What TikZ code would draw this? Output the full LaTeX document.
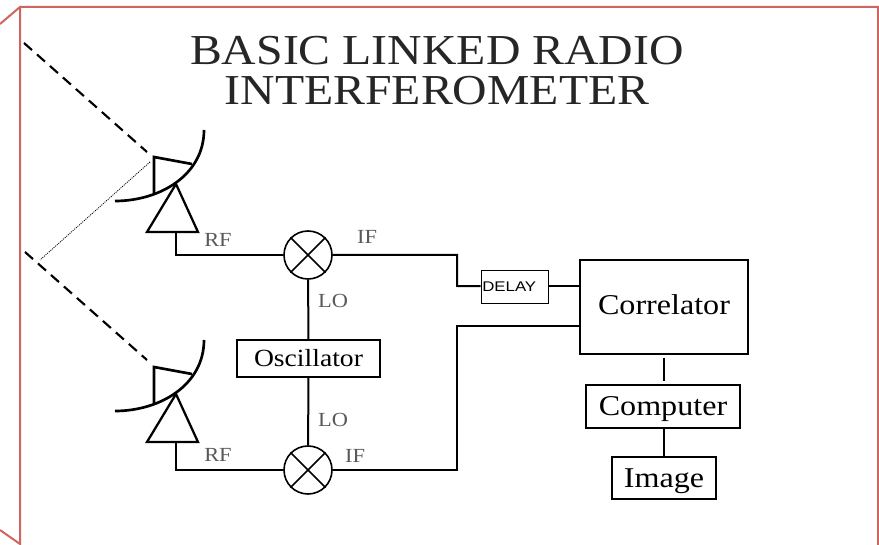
\documentclass[tikz,border=0pt]{standalone}
\usepackage{fontspec}
\setmainfont[FakeStretch=1.12]{Liberation Serif}
\setsansfont[FakeStretch=1.2]{Liberation Sans}
\usetikzlibrary{positioning,calc}
\definecolor{framered}{RGB}{205,102,96}

\begin{document}
\begin{tikzpicture}[
  x=0.75pt, y=-0.75pt,
  frame/.style={draw=framered, line width=1.5pt},
  wire/.style={line width=1.5pt},
  box/.style={draw, line width=1.5pt, inner sep=0pt},
  mixer/.style={draw, circle, line width=1.2pt, minimum size=36pt, inner sep=0pt},
  ray/.style={line width=1.6pt, dash pattern=on 8pt off 5pt},
  lbl/.style={font=\fontsize{15}{15}\selectfont, text=black!65},
  big/.style={font=\fontsize{21.5}{21.5}\selectfont}
]
\useasboundingbox (0,0) rectangle (879,545);
% outer frame
\draw[frame] (0,24) -- (20,7) -- (878,7) -- (878,545);
\draw[frame] (20,7) -- (20,544) -- (0,530);
% title
\node[align=center, font=\fontsize{32}{30}\selectfont, text=black!85] (title) at (437,70.5) {BASIC LINKED RADIO\\INTERFEROMETER};
% antennas
\foreach \n/\dy in {1/0, 2/210} {
  \draw[line width=2pt] (115,201+\dy) .. controls (160,201+\dy) and (204,175+\dy) .. (204,130+\dy);
  \draw[line width=2pt] (192,164+\dy) -- (154,157+\dy) -- (154,193+\dy);
  \draw[line width=1.7pt] (147,232+\dy) -- (198,232+\dy) -- (176,184+\dy) -- cycle;
  \coordinate (amp\n) at (176,232+\dy);
}
% sky rays
\draw[ray] (24,43) -- (147,152);
\draw[ray] (25,252) -- (147,360);
\draw[line width=0.6pt, dash pattern=on 0.8pt off 0.8pt] (150,162) -- (40,260);
% mixers
\node[mixer] (mixa) at (308,255) {};
\node[mixer] (mixb) at (308,470) {};
\foreach \m in {mixa,mixb} {
  \draw[line width=1.2pt] (\m.45) -- (\m.225);
  \draw[line width=1.2pt] (\m.135) -- (\m.315);
}
% boxes
\node[box, minimum width=107.25pt, minimum height=27.75pt, font=\fontsize{18.5}{18.5}\selectfont] (osc) at (308.5,358.5) {Oscillator};
\node[draw, line width=0.7pt, minimum height=24.75pt, inner ysep=0pt, inner xsep=1pt, text width=48.25pt, align=left, font=\sffamily\fontsize{10.5}{10.5}\selectfont] (delay) at (514.5,286.5) {DELAY};
\node[box, big, minimum width=126pt, minimum height=70.5pt, text depth=4pt] (corr) at (664,307) {Correlator};
\node[box, big, minimum width=115.5pt, minimum height=32.25pt, text depth=0pt] (comp) at (663,406.5) {Computer};
\node[box, big, minimum width=78pt, minimum height=31.5pt, text depth=0pt] (img) at (664,478) {Image};
% wires
\coordinate (ifa) at (457,286);
\coordinate (ifb) at (457,326);
\draw[wire] (amp1) |- (mixa);
\draw[wire] (amp2) |- (mixb);
\draw[wire] (mixa) -| (ifa) -- (delay);
\draw[wire] (mixb) -| (ifb) -- (ifb -| corr.west);
\draw[wire] (delay) -- (delay -| corr.west);
\draw[wire] (mixa) -- (osc);
\draw[wire] (osc) -- (mixb);
\draw[wire, shorten >=2pt, shorten <=2pt] (corr.south -| img) -- (comp.north -| img);
\draw[line width=2pt] (comp.south -| img) -- (img);
% labels
\node[lbl] (rfa) at (218,240) {RF};
\node[lbl] (ifla) at (367,237) {IF};
\node[lbl] (loa) at (333,301) {LO};
\node[lbl] (lob) at (333,420) {LO};
\node[lbl] (rfb) at (218,455) {RF};
\node[lbl] (iflb) at (355,456) {IF};
\end{tikzpicture}
\end{document}
